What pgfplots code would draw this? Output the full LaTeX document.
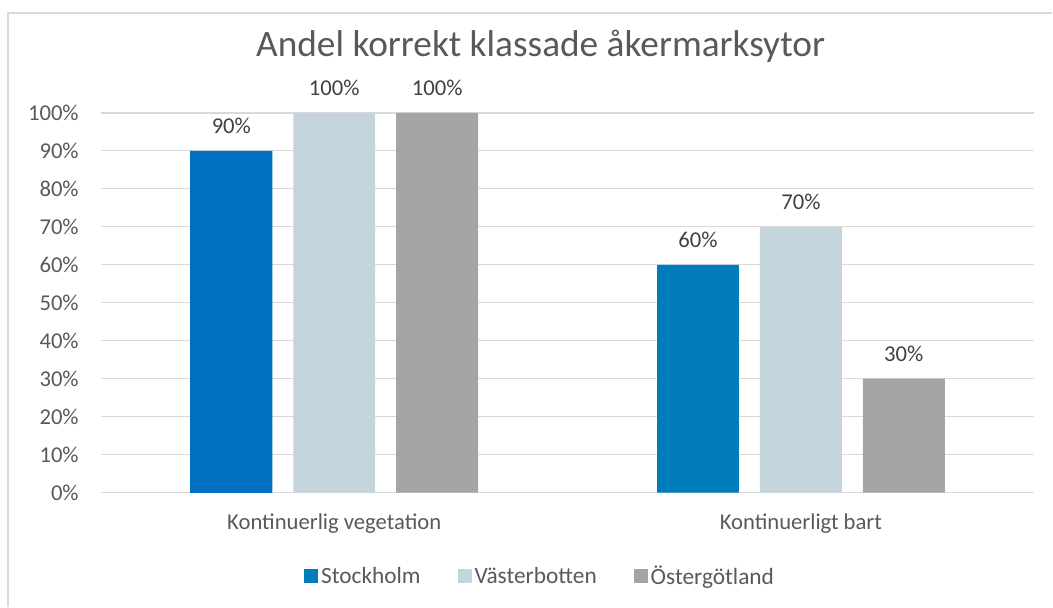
\documentclass[border=0pt]{standalone}
\usepackage{pgfplots}
\pgfplotsset{compat=1.18}
\usepackage{fontspec}
\setmainfont{Carlito}
\definecolor{sthlm}{HTML}{007CBA}
\definecolor{sthlmdark}{HTML}{0070C0}
\definecolor{vbotten}{HTML}{C5D5DE}
\definecolor{ogotland}{HTML}{A5A5A5}
\definecolor{gridgray}{HTML}{D9D9D9}
\definecolor{txtgray}{HTML}{595959}
\definecolor{lblgray}{HTML}{404040}

\begin{document}
\begin{tikzpicture}
% canvas = 1053 x 607 px, 1px = 0.75pt
\path (0,0) rectangle (789.75pt,455.25pt);
\draw[gridgray, line width=1.2pt] (6pt,0) -- (6pt,445.5pt) -- (789.75pt,445.5pt);
\node[txtgray, font=\fontsize{28pt}{32pt}\selectfont] at (405.75pt,420.75pt) {Andel korrekt klassade åkermarksytor};

\begin{axis}[
	at={(75.75pt,85.5pt)}, anchor=south west,
	scale only axis,
	width=700.5pt, height=285pt,
	xmin=-0.5, xmax=1.5,
	ymin=0, ymax=100,
	ybar=15.75pt, bar width=61.5pt,
	xtick={0,1},
	xticklabels={Kontinuerlig vegetation, Kontinuerligt bart},
	ytick={0,10,...,100},
	yticklabel={\pgfmathprintnumber{\tick}\%},
	/pgf/number format/assume math mode=true,
	axis line style={draw=none},
	major tick length=0pt,
	ymajorgrids,
	grid style={gridgray, line width=0.9pt},
	tick label style={font=\fontsize{17pt}{20pt}\selectfont, text=txtgray},
	yticklabel style={anchor=east, inner sep=0pt, xshift=-16.5pt},
	xticklabel style={anchor=base, inner sep=0pt, yshift=-27.75pt},
	clip=false,
	nodes near coords={\pgfmathprintnumber{\pgfplotspointmeta}\%},
	every node near coord/.append style={anchor=base, inner sep=0pt, yshift=12.75pt, text=lblgray, font=\fontsize{17pt}{20pt}\selectfont},
	legend columns=3,
	legend style={at={(0.471,-0.221)}, anchor=center, draw=none, fill=none,
		font=\fontsize{17.5pt}{20pt}\selectfont, text=txtgray,
		/tikz/every even column/.append style={column sep=26pt}},
	legend image code/.code={\fill[#1] (0pt,-5pt) rectangle (10.5pt,5.5pt);},
]
\addplot[draw=none, fill=sthlm, bar shift=-77.25pt]
	coordinates {(0,90) (1,60)};
\addlegendentry{Stockholm}
\addplot[draw=none, fill=vbotten, bar shift=0pt]
	coordinates {(0,100) (1,70)};
\addlegendentry{Västerbotten}
\addplot[draw=none, fill=ogotland, bar shift=77.25pt]
	coordinates {(0,100) (1,30)};
\addlegendentry{Östergötland}
% the first Stockholm bar is a little darker in the original
\addplot[forget plot, draw=none, fill=sthlmdark, bar shift=-77.25pt, nodes near coords={}]
	coordinates {(0,90)};
\end{axis}
\end{tikzpicture}
\end{document}
